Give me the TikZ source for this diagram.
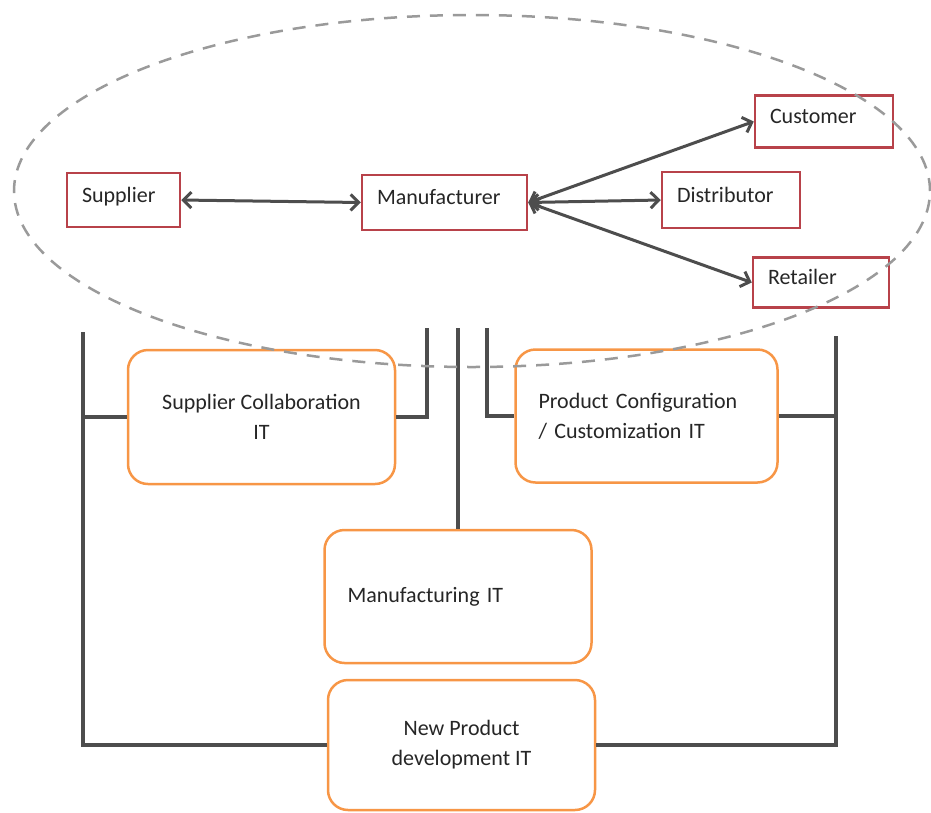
\documentclass[tikz,border=0pt]{standalone}
\usepackage{fontspec}
\setmainfont{Carlito}
\usetikzlibrary{arrows.meta}
\definecolor{boxred}{HTML}{B8424A}
\definecolor{boxorange}{HTML}{F79646}
\definecolor{linegrey}{HTML}{4D4D4D}
\definecolor{dashgrey}{HTML}{9A9A9A}
\definecolor{ink}{HTML}{262626}
\begin{document}
\begin{tikzpicture}[x=1pt,y=-1pt,
  every node/.style={font=\fontsize{22}{30}\selectfont, text=ink},
  redbox/.style={draw=boxred, line width=2.5pt, fill=white, inner xsep=15pt,
    inner ysep=0pt, align=left, text height=14pt, text depth=10pt},
  itbox/.style={draw=boxorange, line width=2.5pt, fill=white,
    rounded corners=20pt, inner ysep=0pt},
  flow/.style={draw=linegrey, line width=3pt,
    {Straight Barb[length=8pt,width=16pt]}-{Straight Barb[length=8pt,width=16pt]}},
  link/.style={draw=linegrey, line width=3.2pt},
]
\useasboundingbox (0,0) rectangle (931,812);

% supply chain partners
\node[redbox, text width=83pt,  minimum height=54pt] (sup) at (123.5,200)   {Supplier};
\node[redbox, text width=135pt, minimum height=55pt] (man) at (444.5,202.5) {Manufacturer};
\node[redbox, text width=108pt, minimum height=52pt] (cus) at (824,121.5)   {Customer};
\node[redbox, text width=108pt, minimum height=56pt] (dis) at (731,200)     {Distributor};
\node[redbox, text width=106pt, minimum height=50pt] (ret) at (821,282.5)   {Retailer};

\draw[flow] (sup.east) -- (man.west);
\draw[flow] (man.east) -- (cus.west);
\draw[flow] (man.east) -- (dis.west);
\draw[flow] (man.east) -- (ret.west);

% tops of the connector rails
\coordinate (lt) at (83,332);
\coordinate (c1) at (427,328);
\coordinate (c2) at (458,328);
\coordinate (c3) at (487,328);
\coordinate (rt) at (836,336);

% IT systems
\node[itbox, minimum width=267pt, minimum height=134pt, align=center] (sc) at (261.5,417)
  {Supplier Collaboration\\IT};
\node[itbox, inner xsep=23pt, text width=216pt, minimum height=133pt, align=left] (pc) at (646.5,416)
  {Product Configuration\\/ Customization IT};
\node[itbox, inner xsep=23pt, text width=221pt, minimum height=133pt, align=left] (mf) at (458,596.5)
  {Manufacturing IT};
\node[itbox, minimum width=267pt, minimum height=130pt, align=center] (np) at (461.5,745)
  {New Product\\development IT};

% rails joining the IT systems
\draw[link] (lt) |- (np.west);
\draw[link] (sc.west) -- (sc.west -| lt);
\draw[link] (sc.east) -| (c1);
\draw[link] (c2) -- (mf.north);
\draw[link] (c3) |- (pc.west);
\draw[link] (pc.east) -- (pc.east -| rt);
\draw[link] (rt) |- (np.east);

% boundary of the supply chain
\draw[dashgrey, line width=2.5pt, dash pattern=on 13pt off 10pt]
  (472,191) ellipse [x radius=458pt, y radius=176pt];
\end{tikzpicture}
\end{document}
